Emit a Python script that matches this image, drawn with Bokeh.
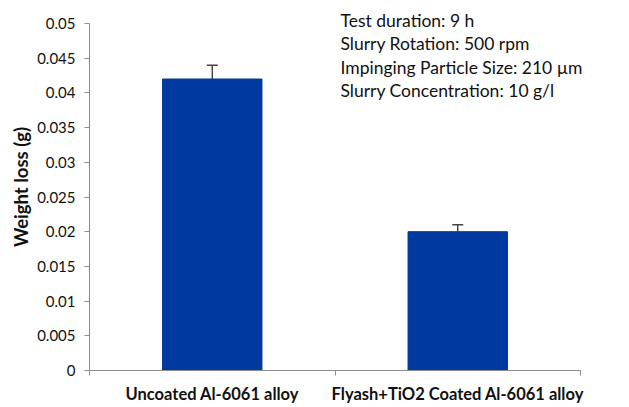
from bokeh.plotting import figure
from bokeh.models import ColumnDataSource, FixedTicker, Range1d, Whisker, Label, TeeHead
from bokeh.embed import file_html
from bokeh.resources import INLINE

# Erosion weight-loss results
categories = ["Uncoated Al-6061 alloy", "Flyash+TiO2 Coated Al-6061 alloy"]
weight_loss = [0.042, 0.020]
error = [0.002, 0.001]
y_ticks = [0, 0.005, 0.01, 0.015, 0.02, 0.025, 0.03, 0.035, 0.04, 0.045, 0.05]
y_tick_labels = ["0", "0.005", "0.01", "0.015", "0.02", "0.025", "0.03",
                 "0.035", "0.04", "0.045", "0.05"]
notes = ["Test duration: 9 h", "Slurry Rotation: 500 rpm",
         "Impinging Particle Size: 210 \u00b5m", "Slurry Concentration: 10 g/l"]

FONT = "Lato"
BAR = "#0039A0"
AXIS = "#8C8C8C"

# the frame is padded above and to the right so the notes are not clipped;
# both axes stop at the data extent through their bounds
Y_MAX = 0.05
TOP_PAD = 20 / 6940.0
N = len(categories)
RIGHT_PAD = 40 / 245.5

xs = [i + 0.5 for i in range(N)]
src = ColumnDataSource(dict(
    x=xs, top=weight_loss,
    upper=[v + e for v, e in zip(weight_loss, error)],
    lower=[v - e for v, e in zip(weight_loss, error)],
))

p = figure(width=629, height=407, output_backend="svg", toolbar_location=None,
           x_range=Range1d(0, N + RIGHT_PAD), y_range=Range1d(0, Y_MAX + TOP_PAD),
           min_border_left=89, min_border_right=9, min_border_top=3,
           min_border_bottom=37)
p.outline_line_color = None
p.xgrid.grid_line_color = None
p.ygrid.grid_line_color = None
p.background_fill_color = "white"
p.border_fill_color = "white"

p.vbar(x="x", top="top", width=0.405, bottom=0, source=src,
       fill_color=BAR, line_color=BAR)
p.add_layout(Whisker(source=src, base="x", upper="upper", lower="lower",
                     line_color="#222222", line_width=1.2,
                     upper_head=TeeHead(size=11, line_color="#444444", line_width=1.5),
                     lower_head=TeeHead(size=11, line_color="#222222", line_width=1.5)))

# x axis: category names centred, tick marks at category boundaries
xa = p.xaxis[0]
xa.ticker = FixedTicker(ticks=xs, minor_ticks=list(range(N + 1)))
xa.bounds = (0, N)
xa.major_label_overrides = {x: c for x, c in zip(xs, categories)}
xa.major_tick_line_color = None
xa.minor_tick_in = 0
xa.minor_tick_out = 5
xa.minor_tick_line_color = AXIS
xa.axis_line_color = AXIS
xa.major_label_text_font = FONT
xa.major_label_text_font_style = "bold"
xa.major_label_text_font_size = "16.5px"
xa.major_label_text_color = "#111111"
xa.major_label_standoff = 7

# y axis
ya = p.yaxis[0]
ya.ticker = FixedTicker(ticks=y_ticks, minor_ticks=[])
ya.bounds = (0, Y_MAX)
ya.major_label_overrides = {t: s for t, s in zip(y_ticks, y_tick_labels)}
ya.major_tick_in = 0
ya.major_tick_out = 5
ya.major_tick_line_color = AXIS
ya.axis_line_color = AXIS
ya.major_label_text_font = FONT
ya.major_label_text_font_size = "15px"
ya.major_label_text_color = "#111111"
ya.major_label_standoff = 9
ya.axis_label = "Weight loss (g)"
ya.axis_label_text_font = FONT
ya.axis_label_text_font_style = "bold"
ya.axis_label_text_font_size = "18.5px"
ya.axis_label_text_color = "#111111"
ya.axis_label_standoff = 2

# test-condition notes in the upper right (screen units relative to the frame)
for i, t in enumerate(notes):
    p.add_layout(Label(x=251, y=350 - i * 23.4, x_units="screen", y_units="screen",
                       text=t, text_font=FONT, text_font_size="17.5px",
                       text_color="#111111", text_baseline="middle"))

open("out.html", "w").write(file_html(p, INLINE))
